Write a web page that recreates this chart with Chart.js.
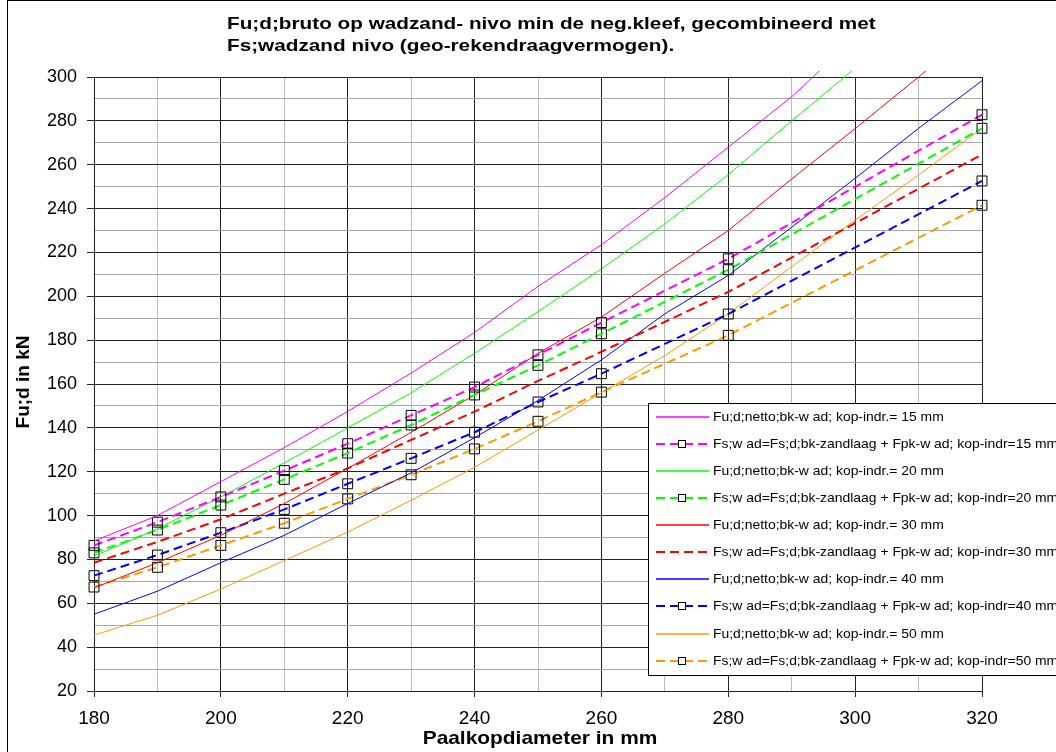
<!DOCTYPE html>
<html>
<head>
<meta charset="utf-8">
<script src="https://cdn.jsdelivr.net/npm/chart.js@4/dist/chart.umd.min.js"></script>
<style>
  html, body { margin: 0; padding: 0; background: #fff; }
  canvas { display: block; }
</style>
</head>
<body>
<canvas id="c" width="1056" height="752"></canvas>
<script>
// Paalkopdiameter (mm): solid curves every 10 mm, dashed series at their calculation points
const diameters   = [180, 190, 200, 210, 220, 230, 240, 250, 260, 270, 280, 290, 300, 310, 320];
const diametersFs = [180, 190, 200, 210, 220, 230, 240, 250, 260, 280, 320];

// Fu;d;netto;bk-wad per kop-indrukking (kN)
const netto15 = [88.4, 100, 115.5, 131, 147.5, 165, 183.5, 204.5, 223.5, 245, 268, 291, 318];
const netto20 = [81.5, 94, 108.5, 124, 140, 156, 174, 193, 212.5, 233, 255.5, 280, 304, 332];
const netto30 = [67, 78.5, 91, 105.5, 121.5, 138, 155, 174, 190.5, 210.5, 230, 253.5, 276.5, 300, 324];
const netto40 = [55, 65.5, 78.5, 91, 105.5, 119.5, 135.5, 152.5, 171, 192, 209.5, 231.5, 253.8, 276.6, 298.3];
const netto50 = [45.5, 54.5, 66.5, 79.5, 92.5, 107, 122, 139, 156, 173, 192, 213.5, 234.8, 255.3, 276.6];

// Fs;wad = Fs;d;bk-zandlaag + Fpk-wad per kop-indrukking (kN)
const fs15 = [86.4, 97, 108.5, 120.5, 132.8, 145.7, 158.6, 173.3, 188, 217.1, 282.8];
const fs20 = [83, 93.4, 104.8, 116.5, 128.5, 141.3, 155, 168.5, 182.9, 212.1, 276.6];
const fs30 = [78.5, 88, 98.3, 110, 121.5, 134.5, 147.4, 161.4, 174.7, 202, 264.7];
const fs40 = [72.6, 82, 92.2, 102.8, 114.5, 126.1, 138, 151.8, 164.7, 191.9, 252.6];
const fs50 = [67.4, 76.4, 86.4, 96.5, 107.6, 118.6, 130.4, 143, 156.3, 182.2, 241.5];

const seriesLabels = [
  'Fu;d;netto;bk-w ad; kop-indr.= 15 mm',
  'Fs;w ad=Fs;d;bk-zandlaag + Fpk-w ad; kop-indr=15 mm',
  'Fu;d;netto;bk-w ad; kop-indr.= 20 mm',
  'Fs;w ad=Fs;d;bk-zandlaag + Fpk-w ad; kop-indr=20 mm',
  'Fu;d;netto;bk-w ad; kop-indr.= 30 mm',
  'Fs;w ad=Fs;d;bk-zandlaag + Fpk-w ad; kop-indr=30 mm',
  'Fu;d;netto;bk-w ad; kop-indr.= 40 mm',
  'Fs;w ad=Fs;d;bk-zandlaag + Fpk-w ad; kop-indr=40 mm',
  'Fu;d;netto;bk-w ad; kop-indr.= 50 mm',
  'Fs;w ad=Fs;d;bk-zandlaag + Fpk-w ad; kop-indr=50 mm'
];
const seriesColors = ['#ff00ff', '#ff00ff', '#00ff00', '#00ff00', '#ff0000',
                      '#ff0000', '#0000ff', '#0000ff', '#ff9900', '#ff9900'];

const titleLines = [
  'Fu;d;bruto op wadzand- nivo min de neg.kleef, gecombineerd met',
  'Fs;wadzand nivo (geo-rekendraagvermogen).'
];
const xTitle = 'Paalkopdiameter in mm';
const yTitle = 'Fu;d in kN';

const FONT = '"Liberation Sans", Arial, Helvetica, sans-serif';
Chart.defaults.font.family = FONT;

function pairs(xs, ys) {
  return ys.map((v, i) => ({ x: xs[i], y: v }));
}

const overflow = { left: 8, top: 6, right: 8, bottom: 8 };

function solid(i, xs, ys) {
  return {
    label: seriesLabels[i], data: pairs(xs, ys),
    borderColor: seriesColors[i], borderWidth: 1, pointRadius: 0,
    tension: 0, fill: false, clip: overflow
  };
}
function dashed(i, xs, ys, marker) {
  return {
    label: seriesLabels[i], data: pairs(xs, ys),
    borderColor: seriesColors[i], borderWidth: 2, borderDash: [9, 5],
    pointStyle: 'rect', pointRadius: marker ? 7 : 0,
    pointBorderColor: '#000', pointBorderWidth: 1,
    pointBackgroundColor: 'rgba(0,0,0,0)',
    tension: 0, fill: false, clip: overflow
  };
}

const datasets = [
  solid(0, diameters, netto15),
  dashed(1, diametersFs, fs15, true),
  solid(2, diameters, netto20),
  dashed(3, diametersFs, fs20, true),
  solid(4, diameters, netto30),
  dashed(5, diametersFs, fs30, false),
  solid(6, diameters, netto40),
  dashed(7, diametersFs, fs40, true),
  solid(8, diameters, netto50),
  dashed(9, diametersFs, fs50, true)
];

function scaledText(ctx, text, x, y, font, align, sx, rot, baseline) {
  ctx.save();
  ctx.font = font;
  ctx.translate(x, y);
  if (rot) ctx.rotate(rot);
  ctx.scale(sx, 1);
  ctx.textAlign = align;
  ctx.textBaseline = baseline || 'middle';
  ctx.fillStyle = '#000';
  ctx.fillText(text, 0, 0);
  ctx.restore();
}

// Frame, titles and the boxed legend inside the plot
const decorations = {
  id: 'decorations',
  afterDraw(chart) {
    const ctx = chart.ctx;
    // outer frame
    ctx.save();
    ctx.strokeStyle = '#000';
    ctx.lineWidth = 1;
    ctx.strokeRect(7.5, 0.5, 1100, 800);
    ctx.restore();

    scaledText(ctx, titleLines[0], 227, 29, 'bold 17px ' + FONT, 'left', 1.22, 0, 'alphabetic');
    scaledText(ctx, titleLines[1], 227, 51, 'bold 17px ' + FONT, 'left', 1.22, 0, 'alphabetic');
    scaledText(ctx, xTitle, 540, 739, 'bold 19px ' + FONT, 'center', 1.1);
    scaledText(ctx, yTitle, 24, 382, 'bold 19px ' + FONT, 'center', 1.0, -Math.PI / 2);

    // legend
    const lx = 648, ly = 403, rowH = 27.1, firstRow = 416.7;
    ctx.save();
    ctx.fillStyle = '#fff';
    ctx.fillRect(lx, ly, 500, 272);
    ctx.strokeStyle = '#000';
    ctx.lineWidth = 1;
    ctx.strokeRect(lx + 0.5, ly + 0.5, 500, 272);
    ctx.restore();

    datasets.forEach((ds, i) => {
      const yc = Math.round(firstRow + i * rowH);
      const isDashed = Array.isArray(ds.borderDash);
      ctx.save();
      ctx.strokeStyle = seriesColors[i];
      ctx.lineWidth = isDashed ? 2 : 1.6;
      ctx.setLineDash(isDashed ? ds.borderDash : []);
      ctx.beginPath();
      ctx.moveTo(656, yc);
      ctx.lineTo(709, yc);
      ctx.stroke();
      ctx.restore();
      if (ds.pointRadius > 0) {
        ctx.save();
        ctx.strokeStyle = '#000';
        ctx.lineWidth = 1;
        ctx.fillStyle = '#fff';
        ctx.fillRect(678.5, yc - 3.5, 7, 7);
        ctx.strokeRect(678.5, yc - 3.5, 7, 7);
        ctx.restore();
      }
      scaledText(ctx, seriesLabels[i], 713, yc + 0.5, '13px ' + FONT, 'left', 1.07);
    });
  }
};

function isMajor(ctx) {
  return ctx.tick && Math.round(ctx.tick.value) % 20 === 0;
}

new Chart(document.getElementById('c'), {
  type: 'line',
  data: { datasets },
  plugins: [decorations],
  options: {
    responsive: false,
    animation: false,
    layout: { padding: { left: 0, top: 77, right: 74, bottom: 0 } },
    plugins: { legend: { display: false }, tooltip: { enabled: false }, title: { display: false } },
    scales: {
      x: {
        type: 'linear', min: 180, max: 320,
        afterFit(scale) { scale.height = 61; },
        border: { color: '#222', width: 1 },
        grid: {
          color: c => isMajor(c) ? '#222' : '#bcbcbc',
          tickColor: c => isMajor(c) ? '#222' : 'rgba(0,0,0,0)',
          tickLength: 6, lineWidth: 1
        },
        ticks: {
          stepSize: 10, autoSkip: false, maxRotation: 0, padding: 10,
          color: '#000', font: { size: 19 },
          callback: v => (v % 20 === 0 ? String(v) : '')
        }
      },
      y: {
        type: 'linear', min: 20, max: 300,
        afterFit(scale) { scale.width = 94; },
        border: { color: '#222', width: 1 },
        grid: {
          color: c => isMajor(c) ? '#222' : '#a8a8a8',
          tickColor: c => isMajor(c) ? '#222' : 'rgba(0,0,0,0)',
          tickLength: 7, lineWidth: 1
        },
        ticks: {
          stepSize: 10, autoSkip: false, padding: 10,
          color: '#000', font: { size: 18 },
          callback: v => (v % 20 === 0 ? String(v) : '')
        }
      }
    }
  }
});
</script>
</body>
</html>
